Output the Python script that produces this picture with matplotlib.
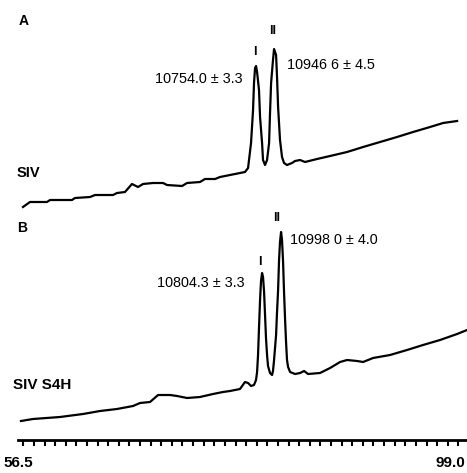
import matplotlib.pyplot as plt
import matplotlib.transforms as mtransforms

# elution axis (minutes) and absorbance traces (arbitrary units)
x_siv = [56.97, 57.63, 59.23, 59.52, 61.59, 61.87, 63.29, 63.76, 65.45, 65.83,
         66.58, 67.24, 67.81, 68.28, 69.22, 70.17, 70.54, 71.96, 72.43, 73.65,
         74.12, 75.07, 75.54, 76.48, 77.42, 77.89, 78.18, 78.46, 78.65, 78.74,
         78.84, 78.93, 79.03, 79.21, 79.31, 79.50, 79.59, 79.78, 79.97, 80.16,
         80.25, 80.35, 80.53, 80.63, 80.82, 80.91, 81.01, 81.19, 81.38, 81.57,
         81.85, 82.32, 82.61, 83.08, 83.55, 84.68, 85.91, 87.51, 89.02, 90.62,
         92.22, 93.73, 95.33, 96.56, 97.88]
y_siv = [0.08, 0.13, 0.13, 0.15, 0.15, 0.17, 0.18, 0.20, 0.20, 0.22,
         0.23, 0.31, 0.28, 0.31, 0.32, 0.32, 0.30, 0.29, 0.32, 0.33,
         0.36, 0.36, 0.38, 0.40, 0.42, 0.43, 0.47, 0.72, 1.05, 1.32,
         1.47, 1.49, 1.43, 1.25, 0.98, 0.72, 0.55, 0.50, 0.55, 0.72,
         1.02, 1.32, 1.55, 1.66, 1.60, 1.38, 1.08, 0.75, 0.58, 0.52,
         0.50, 0.52, 0.54, 0.55, 0.53, 0.56, 0.59, 0.63, 0.68, 0.73,
         0.78, 0.83, 0.88, 0.92, 0.94]

x_s4h = [56.78, 57.91, 60.46, 62.63, 64.23, 65.83, 67.34, 68.00, 68.94, 69.70,
         70.83, 71.49, 72.43, 73.65, 74.88, 75.82, 76.48, 77.42, 77.89, 78.18,
         78.46, 78.74, 78.93, 79.03, 79.12, 79.21, 79.31, 79.40, 79.50, 79.59,
         79.69, 79.78, 79.87, 79.97, 80.06, 80.25, 80.44, 80.53, 80.63, 80.82,
         80.91, 81.01, 81.10, 81.19, 81.29, 81.38, 81.48, 81.57, 81.67, 81.76,
         81.85, 81.95, 82.14, 82.61, 83.08, 83.46, 83.83, 84.96, 85.91, 86.85,
         87.51, 88.45, 89.02, 89.96, 91.56, 93.16, 94.67, 96.27, 97.88, 98.82]
y_s4h = [0.09, 0.11, 0.13, 0.16, 0.19, 0.21, 0.24, 0.27, 0.28, 0.35,
         0.35, 0.34, 0.32, 0.33, 0.36, 0.38, 0.39, 0.41, 0.48, 0.47,
         0.44, 0.45, 0.50, 0.58, 0.75, 1.02, 1.30, 1.49, 1.57, 1.53,
         1.38, 1.15, 0.92, 0.75, 0.64, 0.57, 0.55, 0.59, 0.70, 0.95,
         1.18, 1.40, 1.70, 1.88, 1.98, 1.90, 1.68, 1.38, 1.10, 0.88,
         0.70, 0.63, 0.58, 0.56, 0.57, 0.59, 0.56, 0.57, 0.62, 0.68,
         0.70, 0.69, 0.68, 0.72, 0.75, 0.80, 0.85, 0.90, 0.96, 1.00]

offset_siv = 2.25
offset_s4h = 0.10

x_min, x_max = 56.5, 99.0
tick_step = 1.0

fig = plt.figure(figsize=(4.67, 4.73), dpi=100)
ax = fig.add_axes([18 / 467, 33 / 473, 451 / 467, 440 / 473])

ax.plot(x_siv, [v + offset_siv for v in y_siv], color='black', lw=1.6,
        solid_joinstyle='round')
ax.plot(x_s4h, [v + offset_s4h for v in y_s4h], color='black', lw=1.6,
        solid_joinstyle='round')

ax.set_xlim(x_min, x_max)
ax.set_ylim(0, 4.4)
for side in ['left', 'top', 'right']:
    ax.spines[side].set_visible(False)
ax.spines['bottom'].set_linewidth(2)
ax.set_yticks([])
ticks = [x_min + 0.5 + i * tick_step for i in range(int(x_max - x_min))]
ax.set_xticks(ticks)
ax.set_xticklabels([])
ax.tick_params(axis='x', direction='out', length=4, width=1.5)

font = 'Liberation Sans'
trans = mtransforms.blended_transform_factory(ax.transData, fig.transFigure)
ax.text(x_min, 10 / 473, '56.5', transform=trans, ha='center', va='center',
        fontsize=11, fontweight='bold', family=font)
fig.text(0.997, 10 / 473, '99.0', ha='right', va='center',
         fontsize=11, fontweight='bold', family=font)

# panel labels and sample names
ax.text(56.59, 4.19, 'A', ha='left', va='center', fontsize=10,
        fontweight='bold', family=font)
ax.text(56.40, 2.67, 'SIV', ha='left', va='center', fontsize=10.5,
        fontweight='bold', family=font)
ax.text(56.40, 2.12, 'B', ha='left', va='center', fontsize=10,
        fontweight='bold', family=font)
ax.text(56.03, 0.55, 'SIV S4H', ha='left', va='center', fontsize=11,
        fontweight='bold', family=font)

# peak markers and masses
ann = 10.4
ax.text(78.84, 3.88, 'I', ha='center', va='center', fontsize=9,
        fontweight='bold', family=font)
ax.text(80.53, 4.09, 'II', ha='center', va='center', fontsize=9,
        fontweight='bold', family=font)
ax.text(77.71, 3.61, '10754.0 ± 3.3', ha='right', va='center', fontsize=ann,
        family=font)
ax.text(81.85, 3.75, '10946 6 ± 4.5', ha='left', va='center', fontsize=ann,
        family=font)

ax.text(79.31, 1.78, 'I', ha='center', va='center', fontsize=9,
        fontweight='bold', family=font)
ax.text(80.91, 2.22, 'II', ha='center', va='center', fontsize=9,
        fontweight='bold', family=font)
ax.text(77.90, 1.57, '10804.3 ± 3.3', ha='right', va='center', fontsize=ann,
        family=font)
ax.text(82.14, 2.00, '10998 0 ± 4.0', ha='left', va='center', fontsize=ann,
        family=font)

fig.savefig('out.png', dpi=100)
